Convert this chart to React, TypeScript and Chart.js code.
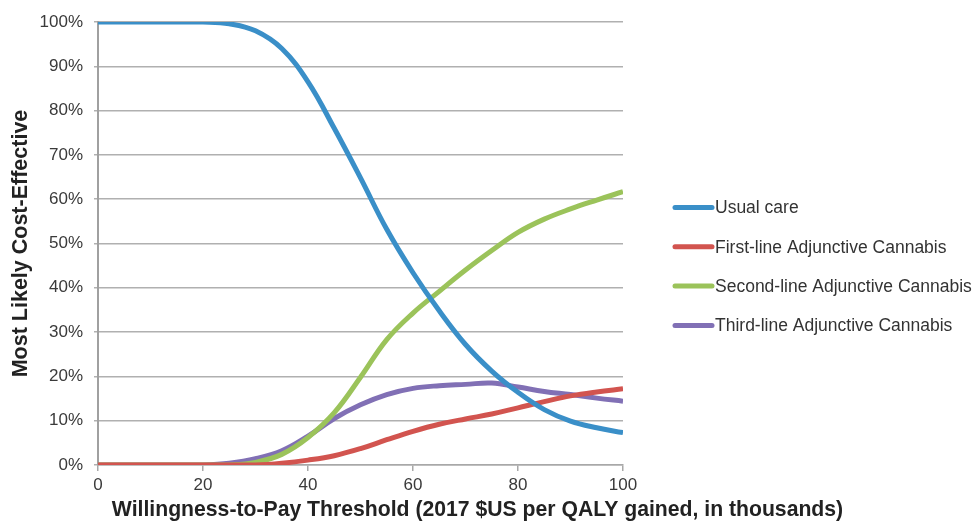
import React, { useEffect, useRef } from "react";
import { Chart, registerables } from "chart.js";

Chart.register(...registerables);

// ---- Data ----
const xValues = [0, 5, 10, 15, 20, 25, 30, 35, 40, 45, 50, 55, 60, 65, 70, 75, 80, 85, 90, 95, 100];
const usualCare = [100, 100, 100, 100, 100, 99.6, 98, 94, 86.5, 76, 64.8, 53.2, 43.4, 34.8, 27.2, 21.2, 16.4, 12.5, 9.9, 8.4, 7.3];
const firstLine = [0, 0, 0, 0, 0, 0, 0, 0.4, 1.1, 2.1, 3.7, 5.7, 7.6, 9.2, 10.4, 11.5, 12.9, 14.3, 15.6, 16.5, 17.2];
const secondLine = [0, 0, 0, 0, 0, 0, 0.6, 2.4, 6.2, 11.8, 19.8, 28.3, 34.3, 39.2, 44, 48.4, 52.5, 55.5, 57.8, 59.8, 61.7];
const thirdLine = [0, 0, 0, 0, 0, 0.4, 1.4, 3.2, 6.5, 10.5, 13.6, 15.9, 17.3, 17.9, 18.2, 18.5, 17.6, 16.6, 15.9, 15.1, 14.4];

const seriesLabels = [
  "Usual care",
  "First-line Adjunctive Cannabis",
  "Second-line Adjunctive Cannabis",
  "Third-line Adjunctive Cannabis",
];
const seriesColors = ["#3a8fc8", "#d2544f", "#9bc35a", "#8170b5"];
const seriesValues = [usualCare, firstLine, secondLine, thirdLine];

const xTitle = "Willingness-to-Pay Threshold (2017 $US per QALY gained, in thousands)";
const yTitle = "Most Likely Cost-Effective";

const FONT = "'Liberation Sans', Arial, Helvetica, sans-serif";

const legendPlugin = {
  id: "sideLegend",
  afterDraw(chart: any) {
    const { ctx, chartArea } = chart;
    const lineStart = chartArea.right + 52;
    const lineEnd = chartArea.right + 89;
    const textX = chartArea.right + 92;
    const startY = 207.5;
    const spacing = 39.3;
    ctx.save();
    ctx.font = `17.5px ${FONT}`;
    ctx.textBaseline = "middle";
    ctx.textAlign = "left";
    chart.data.datasets.forEach((ds: any, i: number) => {
      const y = startY + i * spacing;
      ctx.strokeStyle = ds.borderColor;
      ctx.lineWidth = 5;
      ctx.lineCap = "round";
      ctx.beginPath();
      ctx.moveTo(lineStart, y);
      ctx.lineTo(lineEnd, y);
      ctx.stroke();
      ctx.fillStyle = "#333333";
      ctx.fillText(ds.label, textX, y + 1);
    });
    // x-axis title (wider than the plot area, so drawn here)
    ctx.font = `bold 21.2px ${FONT}`;
    ctx.fillStyle = "#222222";
    ctx.textAlign = "center";
    ctx.fillText(xTitle, 477.5, 510);
    ctx.restore();
  },
};

export default function App() {
  const canvasRef = useRef<HTMLCanvasElement | null>(null);

  useEffect(() => {
    if (!canvasRef.current) return;
    const datasets = seriesValues.map((vals, i) => ({
      label: seriesLabels[i],
      data: vals.map((v, j) => ({ x: xValues[j], y: v })),
      borderColor: seriesColors[i],
      backgroundColor: seriesColors[i],
      borderWidth: 5,
      pointRadius: 0,
      pointHoverRadius: 0,
      tension: 0.4,
      fill: false,
    }));
    const chart = new Chart(canvasRef.current, {
      type: "line",
      data: { datasets },
      options: {
        animation: false,
        responsive: true,
        maintainAspectRatio: false,
        layout: { padding: { top: 22, right: 354, left: 0, bottom: 0 } },
        plugins: {
          legend: { display: false },
          tooltip: { enabled: false },
        },
        scales: {
          x: {
            type: "linear",
            min: 0,
            max: 100,
            ticks: {
              stepSize: 20,
              color: "#3a3a3a",
              font: { family: FONT, size: 17 },
              padding: 4,
            },
            grid: {
              drawOnChartArea: false,
              drawTicks: true,
              tickLength: 6,
              color: "#a8a8a8",
              lineWidth: 1.5,
            },
            border: { display: true, color: "#a8a8a8", width: 1.5 },
            title: { display: false },
            afterFit: (scale: any) => {
              scale.height = 64;
            },
          },
          y: {
            min: 0,
            max: 100,
            ticks: {
              stepSize: 10,
              color: "#3a3a3a",
              font: { family: FONT, size: 17 },
              padding: 11,
              callback: (v: any) => `${v}%`,
            },
            grid: {
              color: "#b0b0b0",
              lineWidth: 1.5,
              drawTicks: true,
              tickLength: 4,
            },
            border: { display: true, color: "#a0a0a0", width: 2 },
            title: {
              display: true,
              text: yTitle,
              color: "#222222",
              font: { family: FONT, size: 21.5, weight: "bold" },
              padding: { top: 8, bottom: 0 },
            },
            afterFit: (scale: any) => {
              scale.width = 98;
            },
          },
        },
      },
      plugins: [legendPlugin],
    });
    return () => chart.destroy();
  }, []);

  return (
    <div
      style={{
        position: "absolute",
        left: 0,
        top: 0,
        width: 977,
        height: 529,
        background: "#ffffff",
      }}
    >
      <canvas ref={canvasRef} />
    </div>
  );
}
